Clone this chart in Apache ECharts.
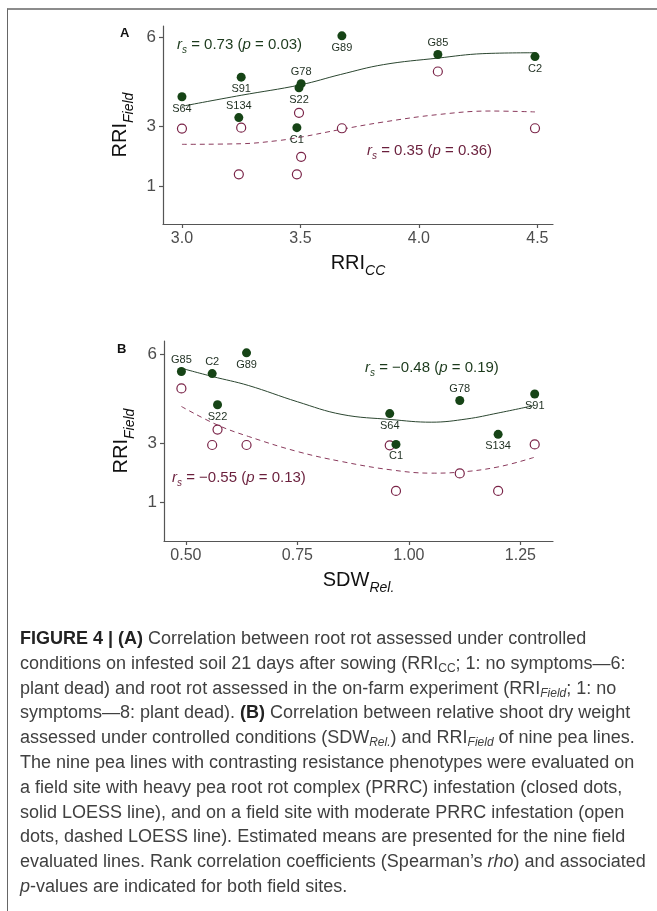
<!DOCTYPE html>
<html>
<head>
<meta charset="utf-8">
<script src="https://cdn.jsdelivr.net/npm/echarts@6/dist/echarts.min.js"></script>
<style>
html,body{margin:0;padding:0;background:#fff;}
#wrap{position:relative;width:657px;height:911px;overflow:hidden;}
#chart{position:absolute;left:0;top:0;width:657px;height:611px;}
#frame{position:absolute;left:7px;top:8px;width:660px;height:920px;border-top:2px solid #8c8c8c;border-left:1px solid #666;pointer-events:none;}
#caption{position:absolute;left:20px;top:626px;font-family:"Liberation Sans",Arial,sans-serif;font-size:18px;line-height:24.8px;color:#404040;white-space:nowrap;}
#caption b{color:#222;}
#caption sub{font-size:12px;vertical-align:-3px;line-height:0;}
</style>
</head>
<body>
<div id="wrap">
<div id="chart"></div>
<div id="frame"></div>
<div id="caption">
<b>FIGURE 4 | (A)</b> Correlation between root rot assessed under controlled<br>
conditions on infested soil 21 days after sowing (RRI<sub>CC</sub>; 1: no symptoms—6:<br>
plant dead) and root rot assessed in the on-farm experiment (RRI<sub><i>Field</i></sub>; 1: no<br>
symptoms—8: plant dead). <b>(B)</b> Correlation between relative shoot dry weight<br>
assessed under controlled conditions (SDW<sub><i>Rel.</i></sub>) and RRI<sub><i>Field</i></sub> of nine pea lines.<br>
The nine pea lines with contrasting resistance phenotypes were evaluated on<br>
a field site with heavy pea root rot complex (PRRC) infestation (closed dots,<br>
solid LOESS line), and on a field site with moderate PRRC infestation (open<br>
dots, dashed LOESS line). Estimated means are presented for the nine field<br>
evaluated lines. Rank correlation coefficients (Spearman’s <i>rho</i>) and associated<br>
<i>p</i>-values are indicated for both field sites.
</div>
</div>
<script>
// ---- data ----
const lines     = ['S64', 'S91', 'S134', 'G78', 'S22', 'C1', 'G89', 'G85', 'C2'];
const rriCC     = [3.00, 3.25, 3.24, 3.503, 3.494, 3.485, 3.675, 4.08, 4.49];
const sdwRel    = [0.957, 1.282, 1.20, 1.114, 0.571, 0.971, 0.636, 0.49, 0.559];
const rriHeavy  = [4.00, 4.66, 3.30, 4.44, 4.30, 2.96, 6.05, 5.42, 5.35];
const rriModerate = [2.93, 2.96, 1.39, 1.98, 3.46, 1.39, 2.94, 4.85, 2.94];

// LOESS curves
const loessA_heavy_x = [3.00, 3.25, 3.50, 3.67, 3.85, 4.08, 4.27, 4.49];
const loessA_heavy_y = [3.68, 4.05, 4.40, 4.75, 5.08, 5.30, 5.45, 5.48];
const loessA_mod_x   = [3.00, 3.25, 3.40, 3.50, 3.67, 3.85, 4.08, 4.30, 4.49];
const loessA_mod_y   = [2.40, 2.42, 2.52, 2.64, 2.90, 3.15, 3.40, 3.52, 3.49];
const loessB_heavy_x = [0.49, 0.56, 0.64, 0.75, 0.85, 0.96, 1.05, 1.13, 1.20, 1.28];
const loessB_heavy_y = [5.53, 5.25, 4.95, 4.40, 3.97, 3.80, 3.71, 3.82, 4.02, 4.27];
const loessB_mod_x   = [0.49, 0.57, 0.64, 0.75, 0.85, 0.96, 1.05, 1.11, 1.20, 1.28];
const loessB_mod_y   = [4.24, 3.62, 3.23, 2.72, 2.38, 2.10, 1.99, 2.02, 2.20, 2.52];

const yTicks  = [1, 3, 6];
const xTicksA = [3.0, 3.5, 4.0, 4.5];
const xTicksB = [0.50, 0.75, 1.00, 1.25];

// label placement (style, not data)
const labelPosA = ['bottom','bottom','top','top','bottom','bottom','bottom','top','bottom'];
const labelPosB = ['bottom','bottom','bottom','top','bottom','bottom','bottom','top','top'];

// ---- styles ----
const GREEN = '#164416', GREEN_LINE = '#2b4630', RED = '#7a2448', RED_LINE = '#8a3a5c';
const AXIS = '#555555', TICKTXT = '#4d4d4d';
const FONT = '"Liberation Sans", Arial, sans-serif';

function zip(xs, ys) { return xs.map((x, i) => [x, ys[i]]); }

function xAxisCfg(idx, min, max, ticks, decimals, nameRich) {
  return {
    type: 'value', gridIndex: idx, min: min, max: max,
    splitLine: {show: false},
    axisLine: {show: true, onZero: false, lineStyle: {color: AXIS, width: 1.2}},
    axisTick: {show: true, customValues: ticks, length: 4, lineStyle: {color: AXIS, width: 1.2}},
    axisLabel: {customValues: ticks, color: TICKTXT, fontSize: 16, fontFamily: FONT, margin: 7,
      formatter: v => v.toFixed(decimals)},
    name: nameRich, nameLocation: 'middle', nameGap: 29,
    nameTextStyle: {fontFamily: FONT, color: '#111',
      rich: {a: {fontSize: 20, fontFamily: FONT, color: '#111', verticalAlign: 'bottom', padding: [0,0,5,0]},
             b: {fontSize: 14, fontFamily: FONT, fontStyle: 'italic', color: '#111', verticalAlign: 'bottom'}}}
  };
}
function yAxisCfg(idx, min, max) {
  return {
    type: 'value', gridIndex: idx, min: min, max: max,
    splitLine: {show: false},
    axisLine: {show: true, onZero: false, lineStyle: {color: AXIS, width: 1.2}},
    axisTick: {show: true, customValues: yTicks, length: 4, lineStyle: {color: AXIS, width: 1.2}},
    axisLabel: {customValues: yTicks, color: TICKTXT, fontSize: 17, fontFamily: FONT, margin: 7},
    name: '{a|RRI}{b|Field}', nameLocation: 'middle', nameGap: 22,
    nameTextStyle: {fontFamily: FONT, color: '#111',
      rich: {a: {fontSize: 20, fontFamily: FONT, color: '#111', verticalAlign: 'bottom', padding: [0,0,5,0]},
             b: {fontSize: 14, fontFamily: FONT, fontStyle: 'italic', color: '#111', verticalAlign: 'bottom'}}}
  };
}

function heavySeries(idx, xs, posArr) {
  return {
    type: 'scatter', xAxisIndex: idx, yAxisIndex: idx, z: 5,
    symbol: 'circle', symbolSize: 9,
    itemStyle: {color: GREEN, opacity: 1},
    data: xs.map((x, i) => ({value: [x, rriHeavy[i]], name: lines[i],
      label: {position: posArr[i]}})),
    label: {show: true, formatter: p => p.name, fontSize: 11, fontFamily: FONT, color: '#1e2e20', distance: 2}
  };
}
function modSeries(idx, xs) {
  return {
    type: 'scatter', xAxisIndex: idx, yAxisIndex: idx, z: 4,
    symbol: 'circle', symbolSize: 9,
    itemStyle: {color: '#ffffff', borderColor: RED, borderWidth: 1.2, opacity: 1},
    data: xs.map((x, i) => [x, rriModerate[i]])
  };
}
function lineSeries(idx, pts, color, dashed) {
  return {
    type: 'line', xAxisIndex: idx, yAxisIndex: idx, z: 3, smooth: 0.4,
    symbol: 'none', data: pts,
    lineStyle: {color: color, width: 1, type: dashed ? [5, 4] : 'solid'}
  };
}

function annot(left, top, coef, p, color) {
  return {
    type: 'text', left: left, top: top,
    style: {
      text: '{i|r}{s|s}{t| = ' + coef + ' (}{i|p}{t| = ' + p + ')}',
      rich: {
        i: {fontSize: 15, fontStyle: 'italic', fontFamily: FONT, fill: color, verticalAlign: 'bottom', padding: [0,0,3,0]},
        s: {fontSize: 10, fontStyle: 'italic', fontFamily: FONT, fill: color, verticalAlign: 'bottom'},
        t: {fontSize: 15, fontFamily: FONT, fill: color, verticalAlign: 'bottom', padding: [0,0,3,0]}
      }
    }
  };
}

const chart = echarts.init(document.getElementById('chart'), null, {renderer: 'canvas'});
chart.setOption({
  animation: false,
  backgroundColor: 'transparent',
  grid: [
    {left: 163, top: 26, width: 390, height: 198, outerBoundsMode: 'none'},
    {left: 164, top: 341, width: 389, height: 200, outerBoundsMode: 'none'}
  ],
  xAxis: [
    xAxisCfg(0, 2.92, 4.566, xTicksA, 1, '{a|RRI}{b|CC}'),
    xAxisCfg(1, 0.451, 1.323, xTicksB, 2, '{a|SDW}{b|Rel.}')
  ],
  yAxis: [
    yAxisCfg(0, -0.28, 6.38),
    yAxisCfg(1, -0.30, 6.45)
  ],
  series: [
    lineSeries(0, zip(loessA_heavy_x, loessA_heavy_y), GREEN_LINE, false),
    lineSeries(0, zip(loessA_mod_x, loessA_mod_y), RED_LINE, true),
    modSeries(0, rriCC),
    heavySeries(0, rriCC, labelPosA),
    lineSeries(1, zip(loessB_heavy_x, loessB_heavy_y), GREEN_LINE, false),
    lineSeries(1, zip(loessB_mod_x, loessB_mod_y), RED_LINE, true),
    modSeries(1, sdwRel),
    heavySeries(1, sdwRel, labelPosB)
  ],
  graphic: [
    {type: 'text', left: 120, top: 27, style: {text: 'A', fontSize: 13, fontWeight: 'bold', fontFamily: FONT, fill: '#111'}},
    {type: 'text', left: 117, top: 343, style: {text: 'B', fontSize: 13, fontWeight: 'bold', fontFamily: FONT, fill: '#111'}},
    annot(177, 37, '0.73', '0.03', '#1c3a1c'),
    annot(367, 143, '0.35', '0.36', '#6a1f3c'),
    annot(365, 360, '−0.48', '0.19', '#1c3a1c'),
    annot(172, 470, '−0.55', '0.13', '#6a1f3c')
  ]
});
</script>
</body>
</html>
